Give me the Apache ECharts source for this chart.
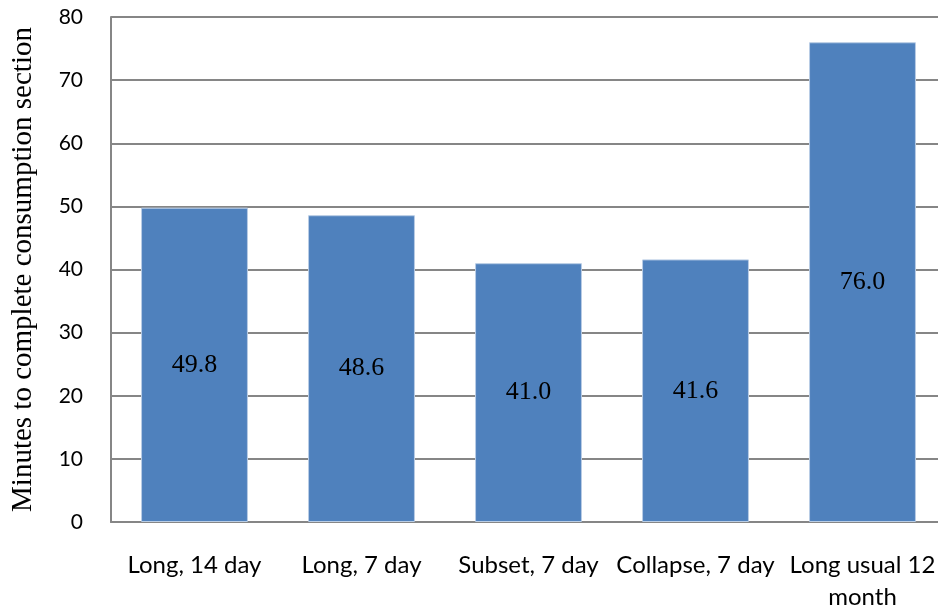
<!DOCTYPE html>
<html><head><meta charset="utf-8">
<script src="https://cdn.jsdelivr.net/npm/echarts@6/dist/echarts.min.js"></script>
<style>html,body{margin:0;padding:0;background:#fff;overflow:hidden}#c{width:938px;height:616px}</style>
</head><body><div id="c"></div>
<script>
const categories = ['Long, 14 day', 'Long, 7 day', 'Subset, 7 day', 'Collapse, 7 day', 'Long usual 12\nmonth'];
const values = [49.8, 48.6, 41.0, 41.6, 76.0];
const yTicks = [0, 80, 10];
const chart = echarts.init(document.getElementById('c'));
chart.setOption({
  animation: false,
  grid: { left: 111, width: 835, top: 17, height: 505, containLabel: false, outerBoundsMode: 'none' },
  xAxis: {
    type: 'category', data: categories,
    axisLine: { lineStyle: { color: '#868686', width: 2 } },
    axisTick: { show: false },
    axisLabel: { color: '#000', fontFamily: 'Lato', fontSize: 24, margin: 27, lineHeight: 32, interval: 0 }
  },
  yAxis: {
    type: 'value', min: yTicks[0], max: yTicks[1], interval: yTicks[2],
    name: 'Minutes to complete consumption section', nameLocation: 'middle', nameGap: 73,
    nameTextStyle: { fontFamily: 'Liberation Serif', fontSize: 29, color: '#000' },
    axisLine: { show: true, lineStyle: { color: '#868686', width: 2 } },
    axisTick: { show: false },
    splitLine: { lineStyle: { color: '#868686', width: 2 } },
    axisLabel: { color: '#000', fontFamily: 'Lato', fontSize: 21, margin: 28 }
  },
  series: [{
    type: 'bar', data: values, barWidth: '64%',
    itemStyle: { color: '#4F81BD', borderColor: '#B9CDE5', borderWidth: 1 },
    label: { show: true, position: 'inside', fontFamily: 'Liberation Serif', fontSize: 26, color: '#000',
      formatter: p => p.value.toFixed(1) }
  }]
});
</script></body></html>
